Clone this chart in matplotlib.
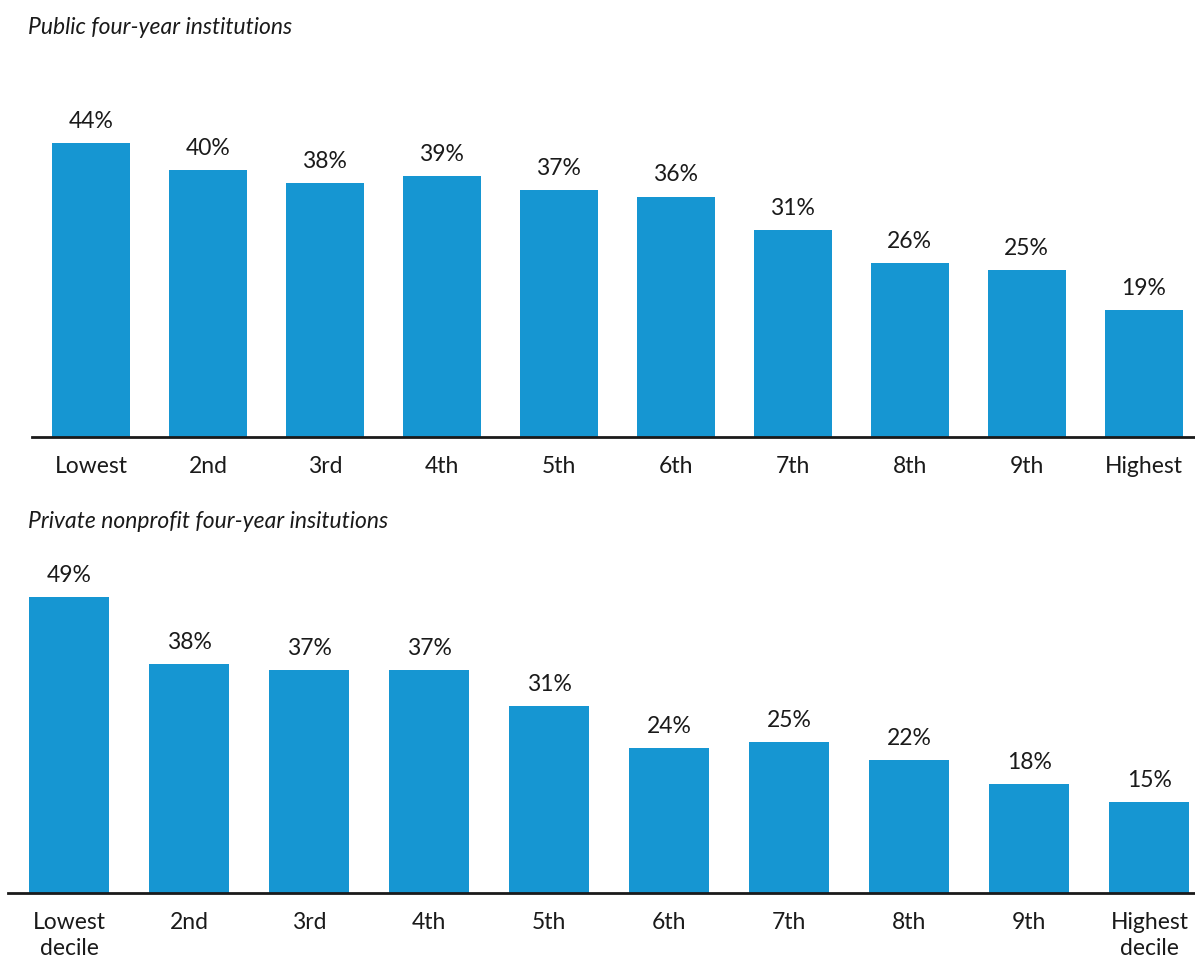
import matplotlib.pyplot as plt

plt.rcParams['font.family'] = ['Lato', 'DejaVu Sans']

BLUE = "#1696d2"

public_labels = ["Lowest", "2nd", "3rd", "4th", "5th", "6th", "7th", "8th", "9th", "Highest"]
public_values = [44, 40, 38, 39, 37, 36, 31, 26, 25, 19]

private_labels = ["Lowest\ndecile", "2nd", "3rd", "4th", "5th", "6th", "7th", "8th", "9th", "Highest\ndecile"]
private_values = [49, 38, 37, 37, 31, 24, 25, 22, 18, 15]

FS = 16.5


def draw_panel(ax, labels, values, xlim, ylim):
    x = range(len(values))
    bars = ax.bar(x, values, width=0.667, color=BLUE)
    for b, v in zip(bars, values):
        ax.annotate(f"{v}%", (b.get_x() + b.get_width() / 2, v),
                    xytext=(0, 8), textcoords="offset points",
                    ha="center", va="bottom", fontsize=FS, color="#1a1a1a")
    ax.set_xticks(list(x))
    ax.set_xticklabels(labels, fontsize=FS, color="#1a1a1a", linespacing=1.25)
    ax.tick_params(axis="x", length=0, pad=14)
    ax.set_yticks([])
    for s in ["top", "right", "left"]:
        ax.spines[s].set_visible(False)
    ax.spines["bottom"].set_linewidth(2)
    ax.spines["bottom"].set_color("#1a1a1a")
    ax.set_xlim(*xlim)
    ax.set_ylim(*ylim)


fig = plt.figure(figsize=(11.95, 9.61), dpi=100)

ax1 = fig.add_axes([32 / 1195, 1 - 437 / 961, 1 - 32 / 1195, 334 / 961])
draw_panel(ax1, public_labels, public_values, (-0.504, 9.44), (0, 50))

ax2 = fig.add_axes([8 / 1195, 1 - 893 / 961, 1 - 8 / 1195, 332 / 961])
draw_panel(ax2, private_labels, private_values, (-0.51, 9.38), (0, 55))

fig.text(28 / 1195, 1 - 27 / 961, "Public four-year institutions",
         fontsize=FS, style="italic", va="center", ha="left", color="#1a1a1a")
fig.text(28 / 1195, 1 - 522 / 961, "Private nonprofit four-year insitutions",
         fontsize=FS, style="italic", va="center", ha="left", color="#1a1a1a")

fig.savefig("out.png", dpi=100)
plt.close(fig)
